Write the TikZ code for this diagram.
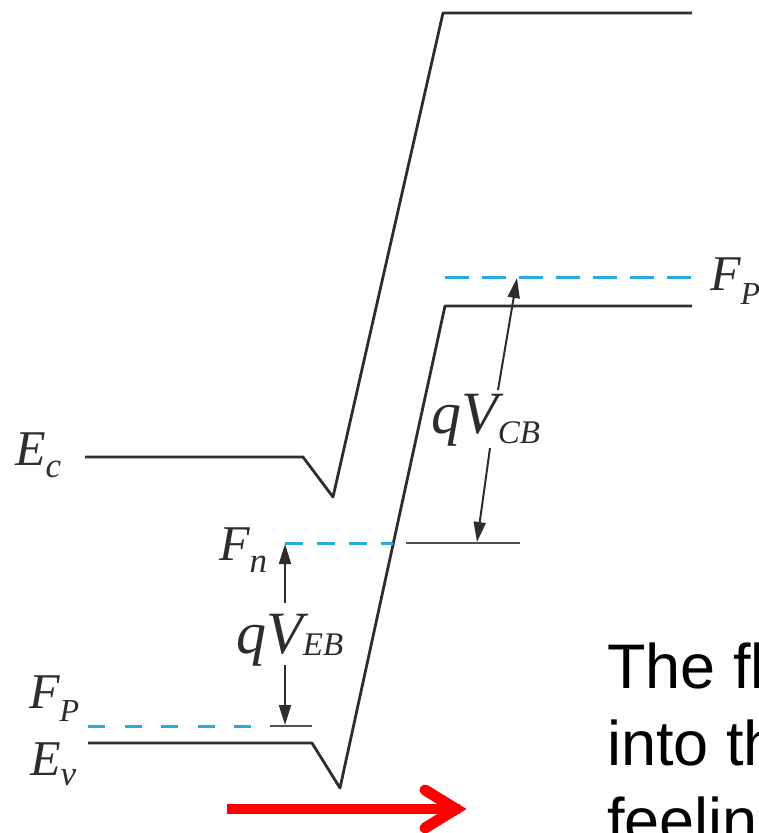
\documentclass[tikz,border=0pt]{standalone}
\usepackage{fontspec}
\setmainfont{Liberation Serif}
\newfontfamily\arialf{Liberation Sans}
\usetikzlibrary{arrows.meta}
\definecolor{fblue}{RGB}{40,170,225}
\definecolor{bandc}{RGB}{45,45,45}
\definecolor{thinc}{RGB}{80,80,80}
\newcommand\sublab[5]{{\fontsize{#3}{#3}\selectfont\itshape #1}\raisebox{-#5}{\fontsize{#4}{#4}\selectfont\itshape #2}}
\tikzset{
  band/.style={draw=bandc, line width=2.8pt, line join=round},
  fermi/.style={draw=fblue, line width=3pt, dash pattern=on 20pt off 15pt},
  thinline/.style={draw=thinc, line width=2pt},
  varrow/.style={draw=bandc, line width=2pt, -{Triangle[length=20pt,width=12pt]}},
  lab/.style={anchor=base west, inner sep=0pt, text=bandc},
  body/.style={anchor=base west, inner sep=0pt, font=\arialf\fontsize{63}{63}\selectfont},
}
\begin{document}
\begin{tikzpicture}[x=1pt,y=-1pt]
\useasboundingbox (0,0) rectangle (759,833);
\clip (0,0) rectangle (759,833);
% band edges
\coordinate (ec1) at (85,457);
\coordinate (ec2) at (303,457);
\coordinate (ec3) at (333,497);
\coordinate (ec4) at (443,13);
\coordinate (ec5) at (692,13);
\coordinate (ev1) at (88,743);
\coordinate (ev2) at (312,743);
\coordinate (ev3) at (340,788);
\coordinate (ev4) at (445,306);
\coordinate (ev5) at (692,306);
\draw[band] (ec1) -- (ec2) -- (ec3) -- (ec4) -- (ec5);
\draw[band] (ev1) -- (ev2) -- (ev3) -- (ev4) -- (ev5);
% Fermi levels
\coordinate (fn1) at (285,543);
\coordinate (fn2) at (393,543);
\coordinate (fn3) at (406,543);
\coordinate (fn4) at (520,543);
\draw[fermi, dash pattern=on 18pt off 14pt] (fn1) -- (fn2);
\draw[thinline] (fn3) -- (fn4);
\coordinate (fpl1) at (88,726);
\coordinate (fpl2) at (262,726);
\coordinate (fpl3) at (270,726);
\coordinate (fpl4) at (312,726);
\draw[fermi, dash pattern=on 17pt off 19.5pt] (fpl1) -- (fpl2);
\draw[thinline] (fpl3) -- (fpl4);
\coordinate (fpr1) at (445,277);
\coordinate (fpr2) at (692,277);
\draw[fermi, dash pattern=on 24pt off 13pt] (fpr1) -- (fpr2);
% qV_EB arrows
\coordinate (eb1) at (285,603);
\coordinate (eb2) at (285,544);
\coordinate (eb3) at (285,665);
\coordinate (eb4) at (285,725);
\draw[varrow] (eb1) -- (eb2);
\draw[varrow] (eb3) -- (eb4);
% qV_CB arrows
\coordinate (cb1) at (498,390);
\coordinate (cb2) at (517,278);
\coordinate (cb3) at (490,448);
\coordinate (cb4) at (477,542);
\draw[varrow] (cb1) -- (cb2);
\draw[varrow] (cb3) -- (cb4);
% labels
\node[lab] (lEc) at (15,465) {\sublab{E}{c}{50}{35}{12pt}};
\node[lab] (lFn) at (219,560) {\sublab{F}{n}{50}{35}{12pt}};
\node[lab] (lFpl) at (29,708) {\sublab{F}{P}{50}{32}{13pt}};
\node[lab] (lEv) at (30,775) {\sublab{E}{v}{50}{35}{10pt}};
\node[lab] (lFpr) at (710,290) {\sublab{F}{P}{50}{32}{14pt}};
\node[lab] (lEB) at (236,653) {\sublab{qV}{EB}{60}{33}{2pt}};
\node[lab] (lCB) at (431,433) {\sublab{qV}{CB}{60}{33}{10pt}};
% red arrow
\coordinate (rs) at (227,809);
\coordinate (re) at (460,809);
\coordinate (rh1) at (425,790);
\coordinate (rh2) at (456,809);
\coordinate (rh3) at (425,828);
\draw[red, line width=10pt] (rs) -- (re);
\draw[red, line width=11pt, line cap=round, line join=miter] (rh1) -- (rh2) -- (rh3);
% body text (cut off at the right edge)
\node[body] (t1) at (607,688) {The fl};
\node[body] (t2) at (607,765) {into th};
\node[body] (t3) at (607,842) {feelin};
\end{tikzpicture}
\end{document}
